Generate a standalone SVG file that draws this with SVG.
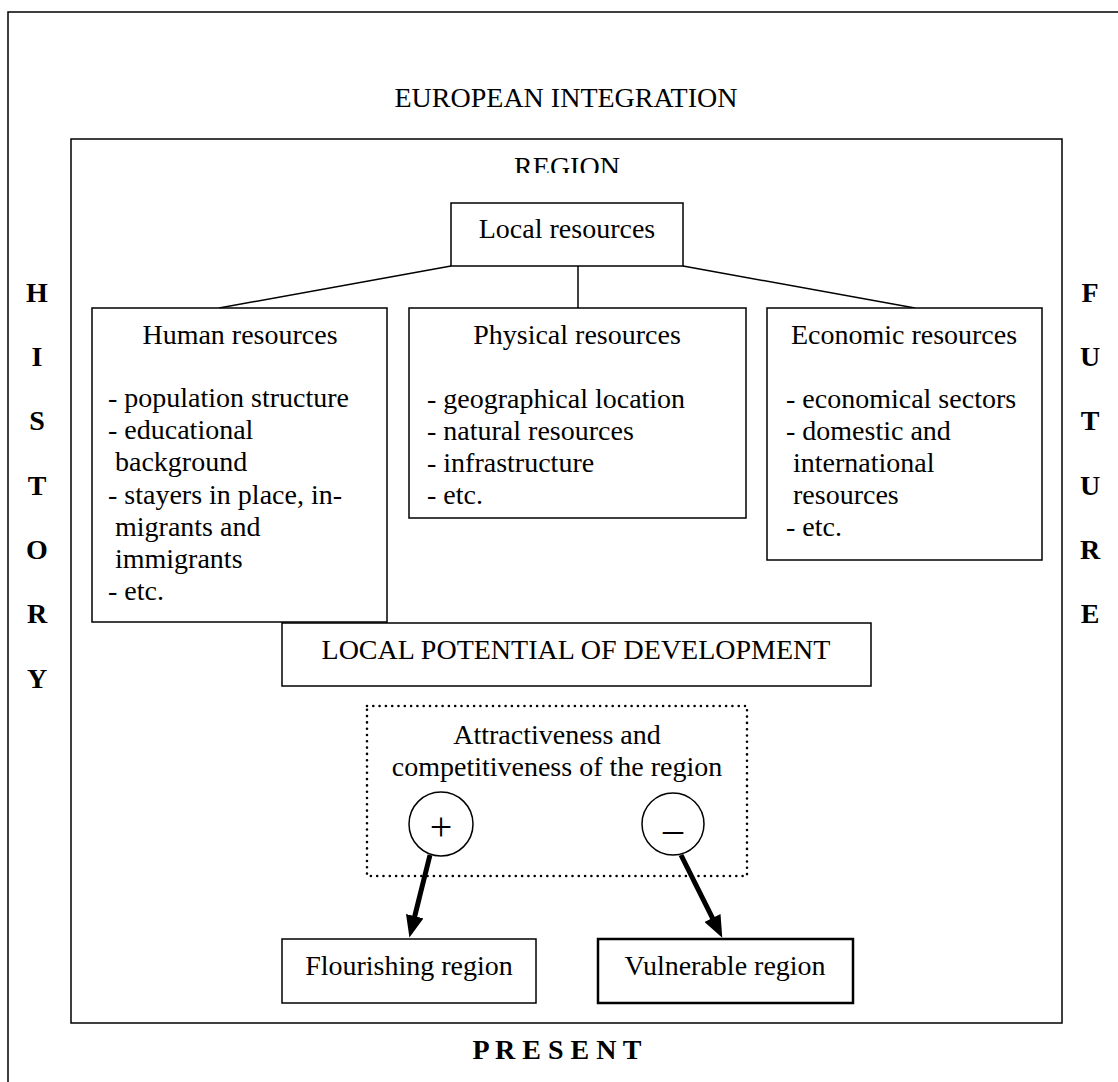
<svg xmlns="http://www.w3.org/2000/svg" width="1118" height="1082" viewBox="0 0 1118 1082">
<style>
  text { font-family: "Liberation Serif", "Times New Roman", serif; font-size: 28px; fill: #000; }
  .c { text-anchor: middle; }
  .b { font-weight: bold; }
  .box { fill: #fff; stroke: #000; stroke-width: 1.5; }
  .ln { stroke: #000; stroke-width: 1.5; fill: none; }
  .arr { stroke: #000; stroke-width: 5; fill: none; }
</style>
<defs>
  <marker id="ah" viewBox="0 0 22 18" refX="1" refY="9" markerWidth="22" markerHeight="18" markerUnits="userSpaceOnUse" orient="auto">
    <path d="M0,0 L22,9 L0,18 z" fill="#000"/>
  </marker>
  <clipPath id="regclip"><rect x="0" y="0" width="1118" height="173"/></clipPath>
</defs>
<rect width="1118" height="1082" fill="#fff"/>

<g id="frame">
  <rect x="8" y="12" width="1130" height="1090" fill="none" stroke="#000" stroke-width="1.5"/>
  <text class="c" x="566" y="107">EUROPEAN INTEGRATION</text>
  <g id="history">
    <text class="c b" x="37" y="302">H</text>
    <text class="c b" x="37" y="366">I</text>
    <text class="c b" x="37" y="430">S</text>
    <text class="c b" x="37" y="495">T</text>
    <text class="c b" x="37" y="559">O</text>
    <text class="c b" x="37" y="623">R</text>
    <text class="c b" x="37" y="688">Y</text>
  </g>
  <g id="future">
    <text class="c b" x="1090" y="302">F</text>
    <text class="c b" x="1090" y="366">U</text>
    <text class="c b" x="1090" y="430">T</text>
    <text class="c b" x="1090" y="495">U</text>
    <text class="c b" x="1090" y="559">R</text>
    <text class="c b" x="1090" y="623">E</text>
  </g>
  <text class="c b" x="557" y="1059" xml:space="preserve">P R E S E N T</text>
</g>

<g id="region">
  <rect x="71" y="139" width="991" height="884" fill="none" stroke="#000" stroke-width="1.5"/>
  <text class="c" x="567" y="176" clip-path="url(#regclip)">REGION</text>
</g>

<g id="connectors">
  <line class="ln" x1="451" y1="266" x2="219" y2="308"/>
  <line class="ln" x1="578" y1="266" x2="578" y2="308"/>
  <line class="ln" x1="683" y1="266" x2="915" y2="308"/>
  <line class="arr" x1="430" y1="855" x2="414.5" y2="917.2" marker-end="url(#ah)"/>
  <line class="arr" x1="681" y1="855" x2="712.9" y2="918.9" marker-end="url(#ah)"/>
</g>

<g id="local-resources">
  <rect class="box" x="451" y="203" width="232" height="63"/>
  <text class="c" x="567" y="238">Local resources</text>
</g>

<g id="human-resources">
  <rect class="box" x="92" y="308" width="295" height="314"/>
  <text class="c" x="240" y="344">Human resources</text>
  <text x="108" y="407">- population structure</text>
  <text x="108" y="439">- educational</text>
  <text x="115" y="471">background</text>
  <text x="108" y="504">- stayers in place, in-</text>
  <text x="115" y="536">migrants and</text>
  <text x="115" y="568">immigrants</text>
  <text x="108" y="600">- etc.</text>
</g>

<g id="physical-resources">
  <rect class="box" x="409" y="308" width="337" height="210"/>
  <text class="c" x="577" y="344">Physical resources</text>
  <text x="427" y="408">- geographical location</text>
  <text x="427" y="440">- natural resources</text>
  <text x="427" y="472">- infrastructure</text>
  <text x="427" y="504">- etc.</text>
</g>

<g id="economic-resources">
  <rect class="box" x="767" y="308" width="275" height="252"/>
  <text class="c" x="904" y="344">Economic resources</text>
  <text x="786" y="408">- economical sectors</text>
  <text x="786" y="440">- domestic and</text>
  <text x="793" y="472">international</text>
  <text x="793" y="504">resources</text>
  <text x="786" y="536">- etc.</text>
</g>

<g id="local-potential">
  <rect class="box" x="282" y="623" width="589" height="63"/>
  <text class="c" x="576" y="659">LOCAL POTENTIAL OF DEVELOPMENT</text>
</g>

<g id="attractiveness">
  <rect x="367" y="706" width="380" height="170" fill="none" stroke="#000" stroke-width="2.6" stroke-dasharray="0 6.3" stroke-linecap="round"/>
  <text class="c" x="557" y="744">Attractiveness and</text>
  <text class="c" x="557" y="776">competitiveness of the region</text>
</g>

<g id="plus">
  <circle cx="441" cy="824" r="32" fill="#fff" stroke="#000" stroke-width="1.5"/>
  <text class="c" x="441" y="840" style="font-size:40px">+</text>
</g>

<g id="minus">
  <circle cx="673" cy="824" r="31" fill="#fff" stroke="#000" stroke-width="1.5"/>
  <text class="c" x="673" y="842" style="font-size:40px">–</text>
</g>

<g id="flourishing">
  <rect class="box" x="282" y="939" width="254" height="64"/>
  <text class="c" x="409" y="975">Flourishing region</text>
</g>

<g id="vulnerable">
  <rect class="box" x="598" y="939" width="255" height="64" style="stroke-width:2.5"/>
  <text class="c" x="725" y="975">Vulnerable region</text>
</g>
</svg>
